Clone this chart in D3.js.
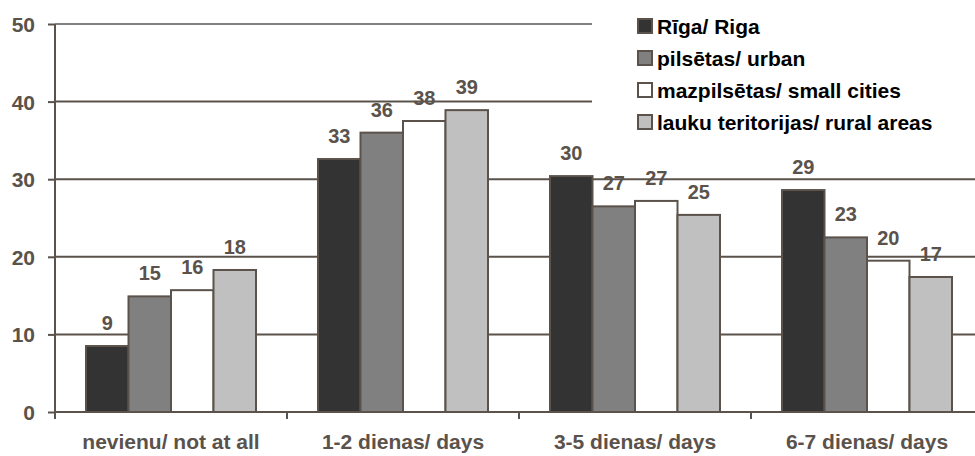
<!DOCTYPE html>
<html><head><meta charset="utf-8">
<script src="https://cdn.jsdelivr.net/npm/d3@7"></script>
<style>body{margin:0;background:#fff}svg{display:block}</style>
</head><body><svg id="c" width="975" height="456"></svg>
<script>
const categories = ["nevienu/ not at all", "1-2 dienas/ days", "3-5 dienas/ days", "6-7 dienas/ days"];
const seriesNames = ["Rīga/ Riga", "pilsētas/ urban", "mazpilsētas/ small cities", "lauku teritorijas/ rural areas"];
const riga = [8.5, 32.6, 30.4, 28.6];
const urban = [14.9, 36.0, 26.5, 22.5];
const smallCities = [15.7, 37.5, 27.2, 19.5];
const rural = [18.3, 38.9, 25.4, 17.4];
const yTicks = [0, 10, 20, 30, 40, 50];
const colors = ["#333333", "#808080", "#ffffff", "#c0c0c0"];

const series = [riga, urban, smallCities, rural];
const ink = "#5a524b";
const font = "'Liberation Sans', Arial, sans-serif";
const svg = d3.select("#c");
const left = 55, baseY = 412, topY = 24;
const x = d3.scaleBand().domain(categories).range([left, left + 4 * 232]).paddingInner(0).paddingOuter(0);
const inner = d3.scaleBand().domain(d3.range(4)).range([31, 201]).padding(0);
const y = d3.scaleLinear().domain([0, 50]).range([baseY, topY]);

// gridlines
svg.append("g").selectAll("line").data(yTicks.filter(d => d > 0)).join("line")
  .attr("x1", left).attr("x2", 975).attr("y1", d => y(d)).attr("y2", d => y(d))
  .attr("stroke", d => d === 50 ? "#808080" : ink).attr("stroke-width", 2);

// bars
const g = svg.append("g").selectAll("g").data(categories).join("g")
  .attr("transform", c => `translate(${x(c)},0)`);
g.selectAll("rect").data((c, i) => series.map((s, k) => ({k, v: s[i]}))).join("rect")
  .attr("x", d => inner(d.k)).attr("width", inner.bandwidth())
  .attr("y", d => y(d.v)).attr("height", d => baseY - y(d.v))
  .attr("fill", d => colors[d.k]).attr("stroke", ink).attr("stroke-width", 2);
g.selectAll("text").data((c, i) => series.map((s, k) => ({k, v: s[i]}))).join("text")
  .attr("x", d => inner(d.k) + inner.bandwidth() / 2).attr("y", d => y(d.v) - 16)
  .attr("text-anchor", "middle").attr("font-family", font).attr("font-weight", "bold")
  .attr("font-size", 20).attr("fill", ink).text(d => Math.round(d.v));

// x axis
const xa = svg.append("g").attr("transform", `translate(0,${baseY})`)
  .call(d3.axisBottom(x).tickSize(0).tickPadding(0).tickFormat(""));
xa.select(".domain").remove();
svg.append("line").attr("x1", left).attr("x2", 975).attr("y1", baseY).attr("y2", baseY)
  .attr("stroke", ink).attr("stroke-width", 2);
svg.append("g").selectAll("line").data(d3.range(5)).join("line")
  .attr("x1", i => left + i * x.step()).attr("x2", i => left + i * x.step())
  .attr("y1", baseY).attr("y2", baseY + 7).attr("stroke", ink).attr("stroke-width", 2);
svg.append("g").selectAll("text").data(categories).join("text")
  .attr("x", c => x(c) + x.bandwidth() / 2).attr("y", 449)
  .attr("text-anchor", "middle").attr("font-family", font).attr("font-weight", "bold")
  .attr("font-size", 21).attr("fill", ink).text(c => c);

// y axis
const ya = svg.append("g").attr("transform", `translate(${left},0)`)
  .call(d3.axisLeft(y).tickValues(yTicks).tickSize(7).tickPadding(13));
ya.select(".domain").attr("stroke", ink).attr("stroke-width", 2).attr("d", `M0,${topY}V${baseY + 7}`);
ya.selectAll(".tick line").attr("stroke", ink).attr("stroke-width", 2);
ya.selectAll(".tick text").attr("font-family", font).attr("font-weight", "bold")
  .attr("font-size", 21).attr("fill", ink).attr("dy", "0.36em");

// legend
svg.append("rect").attr("x", 592).attr("y", 0).attr("width", 383).attr("height", 140).attr("fill", "#fff");
const lg = svg.append("g").selectAll("g").data(seriesNames).join("g")
  .attr("transform", (d, i) => `translate(638,${26 + i * 32})`);
lg.append("rect").attr("x", 0).attr("y", -7).attr("width", 14).attr("height", 14)
  .attr("fill", (d, i) => colors[i]).attr("stroke", ink).attr("stroke-width", 2);
lg.append("text").attr("x", 19).attr("y", 7.5).attr("font-family", font).attr("font-weight", "bold")
  .attr("font-size", 21).attr("fill", "#000").text(d => d);
</script></body></html>
